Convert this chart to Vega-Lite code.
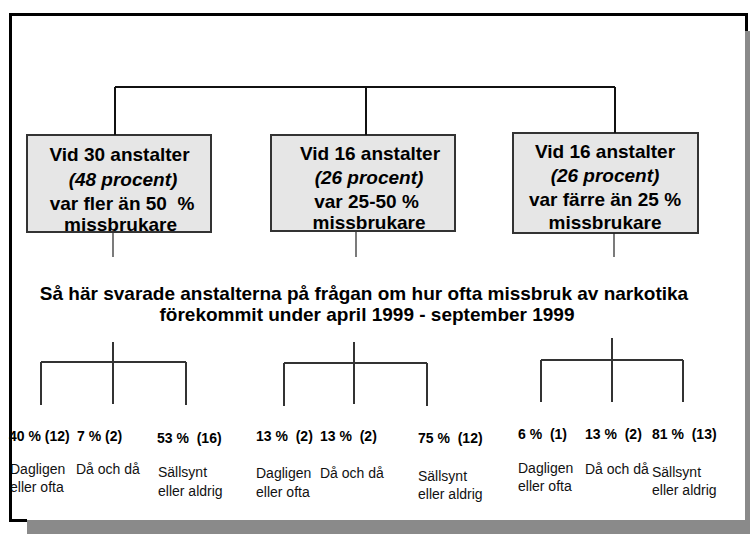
{
  "$schema": "https://vega.github.io/schema/vega-lite/v6.json",
  "width": 750,
  "height": 534,
  "padding": 0,
  "autosize": "none",
  "config": {"view": {"stroke": null}},
  "datasets": {
    "areas": [
      {"part": "shadow", "x": 27, "x2": 750, "y": 31, "y2": 534},
      {"part": "page", "x": 10, "x2": 745, "y": 14, "y2": 520}
    ],
    "boxes": [
      {"box": 1, "x": 27, "x2": 211, "y": 135, "y2": 232},
      {"box": 2, "x": 271, "x2": 455, "y": 135, "y2": 231},
      {"box": 3, "x": 513, "x2": 698, "y": 133, "y2": 233}
    ],
    "lines": [
      {"kind": "top", "x": 115, "x2": 615, "y": 87, "y2": 87},
      {"kind": "top", "x": 115, "x2": 115, "y": 87, "y2": 135},
      {"kind": "top", "x": 366, "x2": 366, "y": 87, "y2": 135},
      {"kind": "top", "x": 615, "x2": 615, "y": 87, "y2": 133},
      {"kind": "stub", "x": 113, "x2": 113, "y": 233, "y2": 257},
      {"kind": "stub", "x": 356, "x2": 356, "y": 232, "y2": 257},
      {"kind": "stub", "x": 614, "x2": 614, "y": 233, "y2": 257},
      {"kind": "tree", "x": 41, "x2": 186, "y": 362, "y2": 362},
      {"kind": "tree", "x": 113, "x2": 113, "y": 342, "y2": 404},
      {"kind": "tree", "x": 41, "x2": 41, "y": 362, "y2": 405},
      {"kind": "tree", "x": 186, "x2": 186, "y": 362, "y2": 405},
      {"kind": "tree", "x": 284, "x2": 427, "y": 363, "y2": 363},
      {"kind": "tree", "x": 354, "x2": 354, "y": 342, "y2": 404},
      {"kind": "tree", "x": 284, "x2": 284, "y": 363, "y2": 406},
      {"kind": "tree", "x": 427, "x2": 427, "y": 363, "y2": 406},
      {"kind": "tree", "x": 541, "x2": 683, "y": 360, "y2": 360},
      {"kind": "tree", "x": 612, "x2": 612, "y": 338, "y2": 402},
      {"kind": "tree", "x": 541, "x2": 541, "y": 360, "y2": 402},
      {"kind": "tree", "x": 683, "x2": 683, "y": 360, "y2": 402},
      {"kind": "frame", "x": 10, "x2": 747, "y": 14.5, "y2": 14.5},
      {"kind": "frame", "x": 10.5, "x2": 10.5, "y": 13, "y2": 522},
      {"kind": "frame", "x": 9, "x2": 27, "y": 520.5, "y2": 520.5},
      {"kind": "frame", "x": 746.5, "x2": 746.5, "y": 13, "y2": 31}
    ],
    "texts": [
      {"kind": "box", "text": "Vid 30 anstalter", "x": 119.5, "y": 155},
      {"kind": "boxit", "text": "(48 procent)", "x": 123, "y": 180},
      {"kind": "box", "text": "var fler än 50\u00a0 %", "x": 122, "y": 204},
      {"kind": "box", "text": "missbrukare", "x": 120.5, "y": 225},
      {"kind": "box", "text": "Vid 16 anstalter", "x": 370, "y": 154},
      {"kind": "boxit", "text": "(26 procent)", "x": 369, "y": 178},
      {"kind": "box", "text": "var 25-50 %", "x": 366.5, "y": 202},
      {"kind": "box", "text": "missbrukare", "x": 369, "y": 223},
      {"kind": "box", "text": "Vid 16 anstalter", "x": 605, "y": 152},
      {"kind": "boxit", "text": "(26 procent)", "x": 605, "y": 176},
      {"kind": "box", "text": "var färre än 25 %", "x": 605, "y": 200},
      {"kind": "box", "text": "missbrukare", "x": 605, "y": 223},
      {"kind": "title", "text": "Så här svarade anstalterna på frågan om hur ofta missbruk av narkotika", "x": 364, "y": 294},
      {"kind": "title", "text": "förekommit under april 1999 - september 1999", "x": 367, "y": 315},
      {"kind": "pct", "text": "40 % (12)", "x": 9, "y": 437},
      {"kind": "pct", "text": "7 % (2)", "x": 77, "y": 437},
      {"kind": "pct", "text": "53 %\u00a0 (16)", "x": 157, "y": 439},
      {"kind": "pct", "text": "13 %\u00a0 (2)", "x": 256, "y": 437},
      {"kind": "pct", "text": "13 %\u00a0 (2)", "x": 320, "y": 437},
      {"kind": "pct", "text": "75 %\u00a0 (12)", "x": 418, "y": 439},
      {"kind": "pct", "text": "6 %\u00a0 (1)", "x": 518, "y": 435},
      {"kind": "pct", "text": "13 %\u00a0 (2)", "x": 585, "y": 435},
      {"kind": "pct", "text": "81 %\u00a0 (13)", "x": 652, "y": 435},
      {"kind": "label", "text": "Dagligen", "x": 10, "y": 470},
      {"kind": "label", "text": "eller ofta", "x": 10, "y": 488},
      {"kind": "label", "text": "Då och då", "x": 76, "y": 470},
      {"kind": "label", "text": "Sällsynt", "x": 158, "y": 473},
      {"kind": "label", "text": "eller aldrig", "x": 158, "y": 492},
      {"kind": "label", "text": "Dagligen", "x": 256, "y": 474},
      {"kind": "label", "text": "eller ofta", "x": 256, "y": 493},
      {"kind": "label", "text": "Då och då", "x": 320, "y": 474},
      {"kind": "label", "text": "Sällsynt", "x": 418, "y": 477},
      {"kind": "label", "text": "eller aldrig", "x": 418, "y": 495},
      {"kind": "label", "text": "Dagligen", "x": 518, "y": 469},
      {"kind": "label", "text": "eller ofta", "x": 518, "y": 487},
      {"kind": "label", "text": "Då och då", "x": 585, "y": 470},
      {"kind": "label", "text": "Sällsynt", "x": 652, "y": 473},
      {"kind": "label", "text": "eller aldrig", "x": 652, "y": 491}
    ]
  },
  "layer": [
    {
      "data": {"name": "areas"},
      "transform": [{"filter": "datum.part === 'shadow'"}],
      "mark": {"type": "rect", "fill": "#8a8a8a"},
      "encoding": {
        "x": {"field": "x", "type": "quantitative", "scale": {"domain": [0, 750], "nice": false, "zero": false}, "axis": null},
        "x2": {"field": "x2"},
        "y": {"field": "y", "type": "quantitative", "scale": {"domain": [0, 534], "nice": false, "zero": false, "reverse": true}, "axis": null},
        "y2": {"field": "y2"}
      }
    },
    {
      "data": {"name": "areas"},
      "transform": [{"filter": "datum.part === 'page'"}],
      "mark": {"type": "rect", "fill": "#ffffff"},
      "encoding": {
        "x": {"field": "x", "type": "quantitative", "scale": {"domain": [0, 750], "nice": false, "zero": false}, "axis": null},
        "x2": {"field": "x2"},
        "y": {"field": "y", "type": "quantitative", "scale": {"domain": [0, 534], "nice": false, "zero": false, "reverse": true}, "axis": null},
        "y2": {"field": "y2"}
      }
    },
    {
      "data": {"name": "boxes"},
      "mark": {"type": "rect", "fill": "#e6e6e6", "stroke": "#333333", "strokeWidth": 2},
      "encoding": {
        "x": {"field": "x", "type": "quantitative", "axis": null},
        "x2": {"field": "x2"},
        "y": {"field": "y", "type": "quantitative", "axis": null},
        "y2": {"field": "y2"}
      }
    },
    {
      "data": {"name": "lines"},
      "transform": [{"filter": "datum.kind === 'top'"}],
      "mark": {"type": "rule", "color": "#111111", "strokeWidth": 2},
      "encoding": {
        "x": {"field": "x", "type": "quantitative", "axis": null},
        "x2": {"field": "x2"},
        "y": {"field": "y", "type": "quantitative", "axis": null},
        "y2": {"field": "y2"}
      }
    },
    {
      "data": {"name": "lines"},
      "transform": [{"filter": "datum.kind === 'stub'"}],
      "mark": {"type": "rule", "color": "#222222", "strokeWidth": 1.2},
      "encoding": {
        "x": {"field": "x", "type": "quantitative", "axis": null},
        "x2": {"field": "x2"},
        "y": {"field": "y", "type": "quantitative", "axis": null},
        "y2": {"field": "y2"}
      }
    },
    {
      "data": {"name": "lines"},
      "transform": [{"filter": "datum.kind === 'tree'"}],
      "mark": {"type": "rule", "color": "#333333", "strokeWidth": 2},
      "encoding": {
        "x": {"field": "x", "type": "quantitative", "axis": null},
        "x2": {"field": "x2"},
        "y": {"field": "y", "type": "quantitative", "axis": null},
        "y2": {"field": "y2"}
      }
    },
    {
      "data": {"name": "texts"},
      "transform": [{"filter": "datum.kind === 'box'"}],
      "mark": {"type": "text", "font": "Liberation Sans", "fontSize": 19, "fontWeight": "bold", "align": "center", "baseline": "middle", "color": "#000000"},
      "encoding": {
        "x": {"field": "x", "type": "quantitative", "axis": null},
        "y": {"field": "y", "type": "quantitative", "axis": null},
        "text": {"field": "text"}
      }
    },
    {
      "data": {"name": "texts"},
      "transform": [{"filter": "datum.kind === 'boxit'"}],
      "mark": {"type": "text", "font": "Liberation Sans", "fontSize": 19, "fontWeight": "bold", "fontStyle": "italic", "align": "center", "baseline": "middle", "color": "#000000"},
      "encoding": {
        "x": {"field": "x", "type": "quantitative", "axis": null},
        "y": {"field": "y", "type": "quantitative", "axis": null},
        "text": {"field": "text"}
      }
    },
    {
      "data": {"name": "texts"},
      "transform": [{"filter": "datum.kind === 'title'"}],
      "mark": {"type": "text", "font": "Liberation Sans", "fontSize": 19, "fontWeight": "bold", "align": "center", "baseline": "middle", "color": "#000000"},
      "encoding": {
        "x": {"field": "x", "type": "quantitative", "axis": null},
        "y": {"field": "y", "type": "quantitative", "axis": null},
        "text": {"field": "text"}
      }
    },
    {
      "data": {"name": "texts"},
      "transform": [{"filter": "datum.kind === 'pct'"}],
      "mark": {"type": "text", "font": "Liberation Sans", "fontSize": 14, "fontWeight": "bold", "align": "left", "baseline": "middle", "color": "#000000"},
      "encoding": {
        "x": {"field": "x", "type": "quantitative", "axis": null},
        "y": {"field": "y", "type": "quantitative", "axis": null},
        "text": {"field": "text"}
      }
    },
    {
      "data": {"name": "texts"},
      "transform": [{"filter": "datum.kind === 'label'"}],
      "mark": {"type": "text", "font": "Liberation Sans", "fontSize": 14, "align": "left", "baseline": "middle", "color": "#111111"},
      "encoding": {
        "x": {"field": "x", "type": "quantitative", "axis": null},
        "y": {"field": "y", "type": "quantitative", "axis": null},
        "text": {"field": "text"}
      }
    },
    {
      "data": {"name": "lines"},
      "transform": [{"filter": "datum.kind === 'frame'"}],
      "mark": {"type": "rule", "color": "#000000", "strokeWidth": 3},
      "encoding": {
        "x": {"field": "x", "type": "quantitative", "axis": null},
        "x2": {"field": "x2"},
        "y": {"field": "y", "type": "quantitative", "axis": null},
        "y2": {"field": "y2"}
      }
    }
  ]
}
